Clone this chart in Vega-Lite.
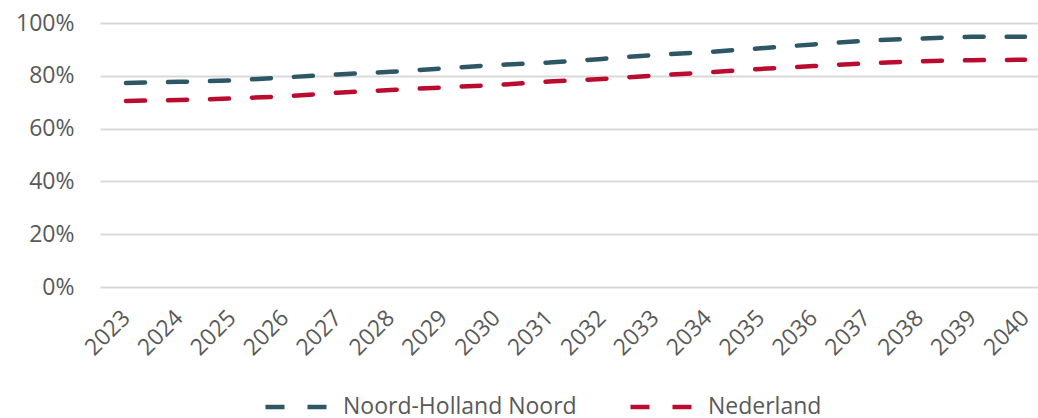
{
  "$schema": "https://vega.github.io/schema/vega-lite/v6.json",
  "width": 938,
  "height": 264,
  "autosize": {"type": "none"},
  "padding": {"left": 100, "top": 23, "right": 0, "bottom": 131},
  "background": "white",
  "config": {
    "view": {"stroke": null},
    "font": "Open Sans",
    "axis": {"labelFont": "Open Sans", "labelColor": "#595959", "labelFontSize": 23},
    "legend": {"labelFont": "Open Sans", "labelColor": "#595959", "labelFontSize": 23}
  },
  "data": {
    "values": [
      {"jaar": 2023, "regio": "Noord-Holland Noord", "waarde": 0.773},
      {"jaar": 2024, "regio": "Noord-Holland Noord", "waarde": 0.777},
      {"jaar": 2025, "regio": "Noord-Holland Noord", "waarde": 0.782},
      {"jaar": 2026, "regio": "Noord-Holland Noord", "waarde": 0.794},
      {"jaar": 2027, "regio": "Noord-Holland Noord", "waarde": 0.805},
      {"jaar": 2028, "regio": "Noord-Holland Noord", "waarde": 0.815},
      {"jaar": 2029, "regio": "Noord-Holland Noord", "waarde": 0.828},
      {"jaar": 2030, "regio": "Noord-Holland Noord", "waarde": 0.841},
      {"jaar": 2031, "regio": "Noord-Holland Noord", "waarde": 0.850},
      {"jaar": 2032, "regio": "Noord-Holland Noord", "waarde": 0.864},
      {"jaar": 2033, "regio": "Noord-Holland Noord", "waarde": 0.879},
      {"jaar": 2034, "regio": "Noord-Holland Noord", "waarde": 0.890},
      {"jaar": 2035, "regio": "Noord-Holland Noord", "waarde": 0.904},
      {"jaar": 2036, "regio": "Noord-Holland Noord", "waarde": 0.919},
      {"jaar": 2037, "regio": "Noord-Holland Noord", "waarde": 0.933},
      {"jaar": 2038, "regio": "Noord-Holland Noord", "waarde": 0.941},
      {"jaar": 2039, "regio": "Noord-Holland Noord", "waarde": 0.948},
      {"jaar": 2040, "regio": "Noord-Holland Noord", "waarde": 0.948},
      {"jaar": 2023, "regio": "Nederland", "waarde": 0.705},
      {"jaar": 2024, "regio": "Nederland", "waarde": 0.708},
      {"jaar": 2025, "regio": "Nederland", "waarde": 0.714},
      {"jaar": 2026, "regio": "Nederland", "waarde": 0.722},
      {"jaar": 2027, "regio": "Nederland", "waarde": 0.736},
      {"jaar": 2028, "regio": "Nederland", "waarde": 0.746},
      {"jaar": 2029, "regio": "Nederland", "waarde": 0.756},
      {"jaar": 2030, "regio": "Nederland", "waarde": 0.765},
      {"jaar": 2031, "regio": "Nederland", "waarde": 0.778},
      {"jaar": 2032, "regio": "Nederland", "waarde": 0.788},
      {"jaar": 2033, "regio": "Nederland", "waarde": 0.801},
      {"jaar": 2034, "regio": "Nederland", "waarde": 0.813},
      {"jaar": 2035, "regio": "Nederland", "waarde": 0.826},
      {"jaar": 2036, "regio": "Nederland", "waarde": 0.837},
      {"jaar": 2037, "regio": "Nederland", "waarde": 0.847},
      {"jaar": 2038, "regio": "Nederland", "waarde": 0.855},
      {"jaar": 2039, "regio": "Nederland", "waarde": 0.859},
      {"jaar": 2040, "regio": "Nederland", "waarde": 0.861}
    ]
  },
  "mark": {"type": "line", "strokeWidth": 4.5, "strokeDash": [19, 23], "strokeCap": "round", "interpolate": "linear"},
  "encoding": {
    "x": {
      "field": "jaar",
      "type": "quantitative",
      "scale": {"domain": [2022.508, 2040.246], "nice": false, "zero": false},
      "axis": {"title": null, "values": [2023, 2024, 2025, 2026, 2027, 2028, 2029, 2030, 2031, 2032, 2033, 2034, 2035, 2036, 2037, 2038, 2039, 2040], "format": "d", "labelAngle": -45, "labelAlign": "right", "labelBaseline": "middle", "domain": false, "ticks": false, "grid": false, "labelPadding": 27, "labelFlush": false, "labelOverlap": false}
    },
    "y": {
      "field": "waarde",
      "type": "quantitative",
      "scale": {"domain": [0, 1]},
      "axis": {"title": null, "values": [0, 0.2, 0.4, 0.6, 0.8, 1], "format": ".0%", "domain": false, "ticks": false, "grid": true, "gridColor": "#d9d9d9", "gridWidth": 2, "labelPadding": 26}
    },
    "color": {
      "field": "regio",
      "type": "nominal",
      "sort": ["Noord-Holland Noord", "Nederland"],
      "scale": {"domain": ["Noord-Holland Noord", "Nederland"], "range": ["#2e5766", "#ba0c2f"]},
      "legend": {
        "title": null,
        "orient": "none",
        "direction": "horizontal",
        "legendX": 163,
        "legendY": 349,
        "symbolType": "stroke",
        "symbolSize": 4225,
        "symbolStrokeWidth": 4.5,
        "symbolDash": [19, 23],
        "symbolStrokeCap": "round",
        "labelOffset": 10,
        "labelLimit": 400,
        "columnPadding": 44
      }
    }
  }
}
